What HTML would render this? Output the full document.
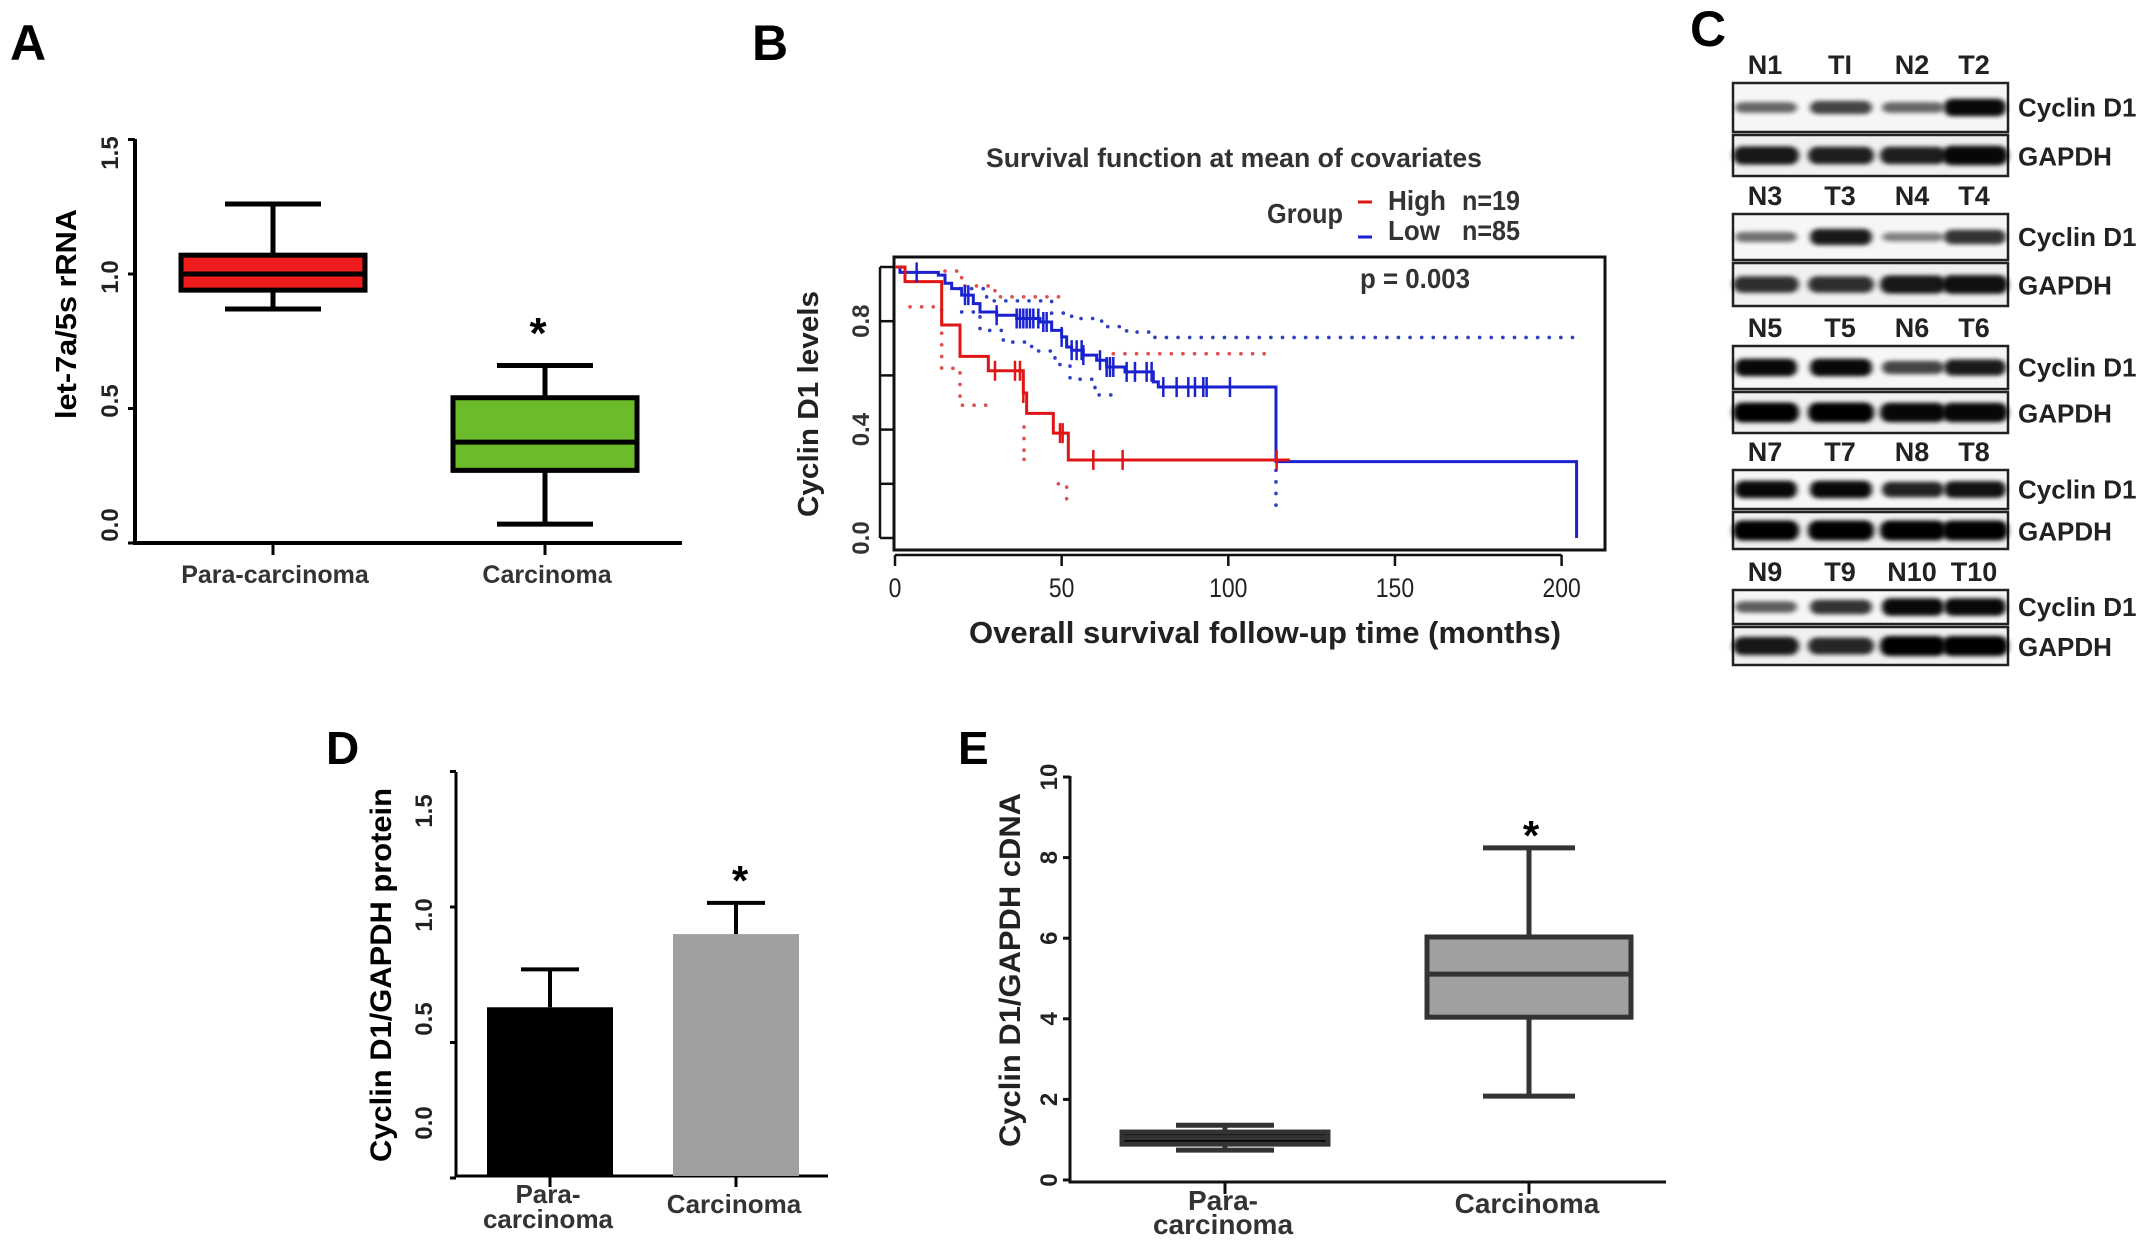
<!DOCTYPE html>
<html><head><meta charset="utf-8"><style>
html,body{margin:0;padding:0;background:#fff;}
svg{display:block;}
text{font-family:"Liberation Sans",Arial,sans-serif;}
.b{font-weight:bold;}
.nar{font-family:"Liberation Sans Narrow","Liberation Sans",sans-serif;}
</style></head><body>
<svg id="fig" width="2150" height="1242" viewBox="0 0 2150 1242" xmlns="http://www.w3.org/2000/svg">
<defs>
<filter id="blur" x="-30%" y="-100%" width="160%" height="300%"><feGaussianBlur stdDeviation="2.8 2.2"/></filter>
</defs>
<text x="10" y="60" class="b" font-size="50">A</text>
<text x="752" y="60" class="b" font-size="50">B</text>
<text x="1690" y="46" class="b" font-size="50">C</text>
<text x="326" y="764" class="b" font-size="46">D</text>
<text x="958" y="764" class="b" font-size="46">E</text>
<g id="pA"></g>
<g id="pB"></g>
<g id="pC"></g>
<g id="pD"></g>
<g id="pE"></g>
</svg>
<script>
// ---------- Panel A data ----------
const aCategories = ["Para-carcinoma", "Carcinoma"];
const aQ1 = [0.94, 0.27];
const aMedian = [1.0, 0.375];
const aQ3 = [1.07, 0.54];
const aWhiskLow = [0.87, 0.07];
const aWhiskHigh = [1.26, 0.66];
const aColors = ["#ee1c1c", "#6cbb2a"];
const aTicks = [0.0, 0.5, 1.0, 1.5];
const aTickLabels = ["0.0", "0.5", "1.0", "1.5"];

// ---------- Panel B data ----------
const bRedT = [0, 3, 14, 19.5, 28, 38.5, 39.5, 47.5, 52];
const bRedS = [1, 0.946, 0.786, 0.67, 0.617, 0.535, 0.46, 0.387, 0.288];
const bRedEnd = 118.5;
const bRedCens = [30, 36, 37.5, 38.5, 49.5, 50.3, 59.5, 68.3, 114.5];
const bBlueT = [0, 1.5, 13, 15, 17, 20, 23.5, 25.5, 30.5, 36.5, 43.5, 47, 50, 51.5, 53, 56.5, 60.5, 63.5, 69, 77.5, 79, 114.3, 204.5];
const bBlueS = [1, 0.98, 0.97, 0.94, 0.92, 0.896, 0.865, 0.834, 0.822, 0.81, 0.797, 0.766, 0.742, 0.705, 0.693, 0.675, 0.656, 0.631, 0.613, 0.576, 0.557, 0.282, 0];
const bBlueCens = [6.5, 21, 22, 30.5, 36.5, 37.5, 38.5, 39.5, 40.5, 41.5, 43, 44.5, 45.5, 50, 53, 54.5, 56, 56.5, 61.5, 63.5, 64.5, 65.5, 69.5, 72, 75.5, 77, 80.5, 84.5, 88, 90, 92.5, 93.5, 100.5];
const bRedUpT = [15, 20, 30, 50];
const bRedUpS = [0.985, 0.93, 0.89];
const bRedUp2T = [65.5, 113];
const bRedUp2S = [0.68];
const bRedLoT = [4.5, 14, 19.5, 27.5];
const bRedLoS = [0.853, 0.626, 0.49];
const bRedLo2T = [38.7, 40];
const bRedLo2S = [0.29];
const bBlueUpT = [19.5, 27.5, 47, 53, 62, 69.5, 78, 205];
const bBlueUpS = [0.92, 0.875, 0.83, 0.81, 0.78, 0.76, 0.74];
const bBlueLoT = [20, 25.5, 32.5, 41, 48, 52.5, 60, 66];
const bBlueLoS = [0.834, 0.766, 0.723, 0.69, 0.64, 0.586, 0.528];
const bXTicks = [0, 50, 100, 150, 200];
const bYTicks = [0, 0.2, 0.4, 0.6, 0.8, 1.0];
const bYLabels = ["0.0", "", "0.4", "", "0.8", ""];

// ---------- Panel C data ----------
const cLanes = [["N1","TI","N2","T2"],["N3","T3","N4","T4"],["N5","T5","N6","T6"],["N7","T7","N8","T8"],["N9","T9","N10","T10"]];
const cCyclin = [[0.4,0.6,0.4,0.95],[0.35,0.85,0.25,0.7],[0.95,0.95,0.6,0.85],[0.95,0.95,0.8,0.9],[0.45,0.7,0.95,0.95]];
const cGapdh = [[0.85,0.8,0.8,0.95],[0.7,0.7,0.85,0.9],[1,1,0.95,0.95],[1,1,1,1],[0.85,0.75,1,1]];
const cGroupTop = [83, 214, 346, 470, 590];
const cCyclinH = [49, 46, 43, 39, 34];
const cGapdhH = [41, 43, 41, 37, 38];

// ---------- Panel D data ----------
const dCategories = ["Para-\ncarcinoma", "Carcinoma"];
const dMeans = [0.63, 0.90];
const dErr = [0.14, 0.115];
const dColors = ["#000000", "#a0a0a0"];
const dTicks = [0.0, 0.5, 1.0, 1.5];
const dTickLabels = ["0.0", "0.5", "1.0", "1.5"];

// ---------- Panel E data ----------
const eCategories = ["Para-\ncarcinoma", "Carcinoma"];
const eQ1 = [0.89, 4.04];
const eMedian = [1.05, 5.11];
const eQ3 = [1.19, 6.03];
const eWhiskLow = [0.74, 2.08];
const eWhiskHigh = [1.36, 8.24];
const eTicks = [0, 2, 4, 6, 8, 10];
const eTickLabels = ["0", "2", "4", "6", "8", "10"];

const NS = "http://www.w3.org/2000/svg";
function mk(parent, tag, attrs, txt) {
  const e = document.createElementNS(NS, tag);
  for (const k in attrs) e.setAttribute(k, attrs[k]);
  if (txt !== undefined) e.textContent = txt;
  parent.appendChild(e);
  return e;
}

// ================= Panel A =================
(function () {
  const g = document.getElementById("pA");
  const y = v => 543 - 269 * v;
  const ly = v => 525 - 248 * v;
  const xc = [273, 545];
  const hw = 92, cw = 48;
  let el = mk(g, "path", { d: "M135 139 V543 H682", fill: "none", stroke: "#000", "stroke-width": 4 });
  
  
  aTicks.forEach((t, i) => {
    let tk = mk(g, "line", { x1: 128, x2: 135, y1: y(t), y2: y(t), stroke: "#000", "stroke-width": 3 });
    
    
    let lb = mk(g, "text", { x: 110, y: ly(t) + 8, "text-anchor": "middle", "font-size": 24, "class": "b", fill: "#222", transform: `rotate(-90 110 ${ly(t)})` }, aTickLabels[i]);
    
    
  });
  let yt = mk(g, "text", { x: 76, y: 314, "text-anchor": "middle", "font-size": 29, "class": "b", transform: "rotate(-90 76 314)", textLength: 210, lengthAdjust: "spacingAndGlyphs" }, "let-7a/5s rRNA");
  
  
  aCategories.forEach((c, i) => {
    const x = xc[i];
    let tk = mk(g, "line", { x1: x, x2: x, y1: 543, y2: 555, stroke: "#000", "stroke-width": 3 });
    
    
    let lb = mk(g, "text", { x: x + 2, y: 583, "text-anchor": "middle", "font-size": 25, "class": "b", fill: "#333" }, c);
    
    
    let w = mk(g, "path", { d: `M${x - cw} ${y(aWhiskHigh[i])} H${x + cw} M${x} ${y(aWhiskHigh[i])} V${y(aQ3[i])} M${x} ${y(aQ1[i])} V${y(aWhiskLow[i])} M${x - cw} ${y(aWhiskLow[i])} H${x + cw}`, stroke: "#000", "stroke-width": 5, fill: "none" });
    
    
    let bx = mk(g, "rect", { x: x - hw, y: y(aQ3[i]), width: 2 * hw, height: y(aQ1[i]) - y(aQ3[i]), fill: aColors[i], stroke: "#000", "stroke-width": 5 });
    
    
    let md = mk(g, "line", { x1: x - hw, x2: x + hw, y1: y(aMedian[i]), y2: y(aMedian[i]), stroke: "#000", "stroke-width": 5 });
    
    
  });
  let st = mk(g, "text", { x: 538, y: 348, "text-anchor": "middle", "font-size": 44, "class": "b" }, "*");
  
  
})();

// ================= Panel B =================
(function () {
  const g = document.getElementById("pB");
  const x = t => 895 + 3.333 * t;
  const y = s => 538 - 271 * s;
  let box = mk(g, "rect", { x: 894, y: 257, width: 711, height: 293, fill: "none", stroke: "#111", "stroke-width": 3 });
  
  
  let ya = mk(g, "line", { x1: 880, x2: 880, y1: y(0), y2: y(1), stroke: "#111", "stroke-width": 2.5 });
  
  
  bYTicks.forEach((t, i) => {
    let tk = mk(g, "line", { x1: 880, x2: 894, y1: y(t), y2: y(t), stroke: "#111", "stroke-width": 2.5 });
    
    
    if (bYLabels[i]) {
      let lb = mk(g, "text", { x: 861, y: y(t) + 8, "text-anchor": "middle", "font-size": 24, "class": "b", fill: "#333", transform: `rotate(-90 861 ${y(t)})` }, bYLabels[i]);
      
      
    }
  });
  let xa = mk(g, "line", { x1: x(0), x2: x(200), y1: 555, y2: 555, stroke: "#111", "stroke-width": 2.5 });
  
  
  bXTicks.forEach(t => {
    let tk = mk(g, "line", { x1: x(t), x2: x(t), y1: 555, y2: 566, stroke: "#111", "stroke-width": 2.5 });
    
    
    let lb = mk(g, "text", { x: x(t), y: 597, "text-anchor": "middle", "font-size": 27, "class": "nar", fill: "#222", transform: `translate(${x(t)} 0) scale(0.85 1) translate(${-x(t)} 0)` }, String(t));
    
    
  });
  function stepPath(T, S, endT) {
    let d = `M${x(T[0])} ${y(S[0])}`;
    for (let i = 1; i < T.length; i++) d += ` H${x(T[i])} V${y(S[i])}`;
    if (endT !== undefined) d += ` H${x(endT)}`;
    return d;
  }
  function segPath(T, S) {
    let d = `M${x(T[0])} ${y(S[0])}`;
    for (let i = 0; i < S.length; i++) {
      d += ` H${x(T[i + 1])}`;
      if (i + 1 < S.length) d += ` V${y(S[i + 1])}`;
    }
    return d;
  }
  const dot = { fill: "none", "stroke-width": 3.6, "stroke-dasharray": "0.1 11.5", "stroke-linecap": "round" };
  [[bRedUpT, bRedUpS, "#e05050", "b-high-ci-upper"], [bRedUp2T, bRedUp2S, "#e05050", "b-high-ci-upper"], [bRedLoT, bRedLoS, "#e05050", "b-high-ci-lower"], [bRedLo2T, bRedLo2S, "#e05050", "b-high-ci-lower"], [bBlueUpT, bBlueUpS, "#3040c0", "b-low-ci-upper"], [bBlueLoT, bBlueLoS, "#3040c0", "b-low-ci-lower"]].forEach(a => {
    let p = mk(g, "path", Object.assign({ d: segPath(a[0], a[1]), stroke: a[2] }, dot));
    
    
  });
  let vci = mk(g, "path", Object.assign({ d: `M${x(38.7)} ${y(0.41)} V${y(0.29)} M${x(49)} ${y(0.2)} H${x(51.5)} V${y(0.14)}`, stroke: "#e05050" }, dot));
  
  
  let vci2 = mk(g, "path", Object.assign({ d: `M${x(114.3)} ${y(0.25)} V${y(0.1)}`, stroke: "#3040c0" }, dot));
  
  
  let blue = mk(g, "path", { d: stepPath(bBlueT, bBlueS), fill: "none", stroke: "#1a22d0", "stroke-width": 3 });
  
  
  let red = mk(g, "path", { d: stepPath(bRedT, bRedS, bRedEnd), fill: "none", stroke: "#e01515", "stroke-width": 3 });
  
  
  function sAt(T, S, t) { let s = S[0]; for (let i = 0; i < T.length; i++) if (T[i] <= t) s = S[i]; return s; }
  bBlueCens.forEach(t => {
    const s = sAt(bBlueT, bBlueS, t);
    let c = mk(g, "line", { x1: x(t), x2: x(t), y1: y(s) - 10, y2: y(s) + 10, stroke: "#1a22d0", "stroke-width": 2.5 });
    
    
  });
  bRedCens.forEach(t => {
    const s = sAt(bRedT, bRedS, t);
    let c = mk(g, "line", { x1: x(t), x2: x(t), y1: y(s) - 10, y2: y(s) + 10, stroke: "#e01515", "stroke-width": 2.5 });
    
    
  });
  let tt = mk(g, "text", { x: 1234, y: 167, "text-anchor": "middle", "font-size": 27, "class": "nar b", fill: "#333", textLength: 496, lengthAdjust: "spacingAndGlyphs" }, "Survival function at mean of covariates");
  
  
  let grp = mk(g, "text", { x: 1267, y: 223, "font-size": 28, "class": "nar b", fill: "#333", textLength: 76, lengthAdjust: "spacingAndGlyphs" }, "Group");
  
  
  let l1 = mk(g, "line", { x1: 1358, x2: 1372, y1: 202, y2: 202, stroke: "#e01515", "stroke-width": 3 });
  
  
  let l2 = mk(g, "line", { x1: 1358, x2: 1372, y1: 237, y2: 237, stroke: "#1a22d0", "stroke-width": 3 });
  
  
  let h = mk(g, "text", { x: 1388, y: 210, "font-size": 28, "class": "nar b", fill: "#333", textLength: 58, lengthAdjust: "spacingAndGlyphs" }, "High");
  
  
  let h2 = mk(g, "text", { x: 1462, y: 210, "font-size": 28, "class": "nar b", fill: "#333", textLength: 58, lengthAdjust: "spacingAndGlyphs" }, "n=19");
  
  
  let lo = mk(g, "text", { x: 1388, y: 240, "font-size": 28, "class": "nar b", fill: "#333", textLength: 52, lengthAdjust: "spacingAndGlyphs" }, "Low");
  
  
  let lo2 = mk(g, "text", { x: 1462, y: 240, "font-size": 28, "class": "nar b", fill: "#333", textLength: 58, lengthAdjust: "spacingAndGlyphs" }, "n=85");
  
  
  let p = mk(g, "text", { x: 1360, y: 288, "font-size": 28, "class": "nar b", fill: "#333", textLength: 110, lengthAdjust: "spacingAndGlyphs" }, "p = 0.003");
  
  
  let yt = mk(g, "text", { x: 818, y: 404, "text-anchor": "middle", "font-size": 29, "class": "b", fill: "#222", transform: "rotate(-90 818 404)", textLength: 226, lengthAdjust: "spacingAndGlyphs" }, "Cyclin D1 levels");
  
  
  let xt = mk(g, "text", { x: 1265, y: 643, "text-anchor": "middle", "font-size": 31, "class": "nar b", fill: "#222", textLength: 592, lengthAdjust: "spacingAndGlyphs" }, "Overall survival follow-up time (months)");
  
  
})();

// ================= Panel C =================
(function () {
  const g = document.getElementById("pC");
  const laneX = [1765, 1840, 1912, 1974];
  const L = 1733, R = 2008;
  cLanes.forEach((lanes, gi) => {
    const top = cGroupTop[gi];
    const ch = cCyclinH[gi], gh = cGapdhH[gi];
    const gTop = top + ch + 3;
    lanes.forEach((ln, li) => {
      let t = mk(g, "text", { x: laneX[li], y: top - 9, "text-anchor": "middle", "font-size": 27, "class": "b", fill: "#222" }, ln);
      
      
    });
    let r1 = mk(g, "rect", { x: L, y: top, width: R - L, height: ch, fill: "#f6f6f6", stroke: "#222", "stroke-width": 2.5 });
    
    
    let r2 = mk(g, "rect", { x: L, y: gTop, width: R - L, height: gh, fill: "#f0f0f0", stroke: "#222", "stroke-width": 2.5 });
    
    
    lanes.forEach((ln, li) => {
      const v = cCyclin[gi][li];
      let b = mk(g, "rect", { x: laneX[li] - 30, y: top + ch / 2 - (3 + 6 * v), width: 62, height: 2 * (3 + 6 * v), rx: 8, fill: "#000", opacity: 0.3 + 0.7 * v, filter: "url(#blur)" });
      
      
      const w = cGapdh[gi][li];
      let b2 = mk(g, "rect", { x: laneX[li] - 32, y: gTop + gh / 2 - (4 + 6 * w), width: 66, height: 2 * (4 + 6 * w), rx: 9, fill: "#000", opacity: 0.35 + 0.65 * w, filter: "url(#blur)" });
      
      
    });
    let t1 = mk(g, "text", { x: 2018, y: top + ch / 2 + 9, "font-size": 26, "class": "b", fill: "#222" }, "Cyclin D1");
    
    
    let t2 = mk(g, "text", { x: 2018, y: gTop + gh / 2 + 10, "font-size": 26, "class": "b", fill: "#222" }, "GAPDH");
    
    
  });
})();

// ================= Panel D =================
(function () {
  const g = document.getElementById("pD");
  const y = v => 1178 - 271 * v;
  const ly = v => 1123 - 208 * v;
  const xc = [550, 736];
  const hw = 63, cw = 29;
  let ax = mk(g, "path", { d: "M456 772 V1176 H828", fill: "none", stroke: "#000", "stroke-width": 3 });
  
  
  dTicks.forEach((t, i) => {
    let tk = mk(g, "line", { x1: 450, x2: 456, y1: y(t), y2: y(t), stroke: "#000", "stroke-width": 3 });
    
    
    let lb = mk(g, "text", { x: 424, y: ly(t) + 8, "text-anchor": "middle", "font-size": 24, "class": "b", fill: "#222", transform: `rotate(-90 424 ${ly(t)})` }, dTickLabels[i]);
    
    
  });
  let yt = mk(g, "text", { x: 391, y: 975, "text-anchor": "middle", "font-size": 30, "class": "b", transform: "rotate(-90 391 975)", textLength: 374, lengthAdjust: "spacingAndGlyphs" }, "Cyclin D1/GAPDH protein");
  
  
  dMeans.forEach((m, i) => {
    const x = xc[i];
    let e = mk(g, "path", { d: `M${x} ${y(m)} V${y(m + dErr[i])} M${x - cw} ${y(m + dErr[i])} H${x + cw}`, stroke: "#000", "stroke-width": 4, fill: "none" });
    
    
    let b = mk(g, "rect", { x: x - hw, y: y(m), width: 2 * hw, height: 1176 - y(m), fill: dColors[i] });
    
    
    let tk = mk(g, "line", { x1: x, x2: x, y1: 1176, y2: 1187, stroke: "#000", "stroke-width": 3 });
    
    
    const parts = dCategories[i].split("\n");
    parts.forEach((p, k) => {
      const yy = parts.length === 1 ? 1213 : 1203 + k * 25;
      let lb = mk(g, "text", { x: x - 2, y: yy, "text-anchor": "middle", "font-size": 26, "class": "b", fill: "#333" }, p);
      
      
    });
  });
  let st = mk(g, "text", { x: 740, y: 895, "text-anchor": "middle", "font-size": 42, "class": "b" }, "*");
  
  
})();

// ================= Panel E =================
(function () {
  const g = document.getElementById("pE");
  const y = v => 1180 - 40.3 * v;
  const xc = [1225, 1529];
  const hw = [103, 102], cw = [49, 46];
  const fills = ["#000", "#a0a0a0"];
  let ax = mk(g, "path", { d: "M1070 776 V1182 H1666", fill: "none", stroke: "#111", "stroke-width": 3 });
  
  
  eTicks.forEach((t, i) => {
    let tk = mk(g, "line", { x1: 1063, x2: 1070, y1: y(t), y2: y(t), stroke: "#111", "stroke-width": 3 });
    
    
    let lb = mk(g, "text", { x: 1049, y: y(t) + 8, "text-anchor": "middle", "font-size": 24, "class": "b", fill: "#222", transform: `rotate(-90 1049 ${y(t)})` }, eTickLabels[i]);
    
    
  });
  let yt = mk(g, "text", { x: 1020, y: 970, "text-anchor": "middle", "font-size": 30, "class": "b", fill: "#222", transform: "rotate(-90 1020 970)", textLength: 354, lengthAdjust: "spacingAndGlyphs" }, "Cyclin D1/GAPDH cDNA");
  
  
  eQ1.forEach((q, i) => {
    const x = xc[i];
    let w = mk(g, "path", { d: `M${x - cw[i]} ${y(eWhiskHigh[i])} H${x + cw[i]} M${x} ${y(eWhiskHigh[i])} V${y(eQ3[i])} M${x} ${y(eQ1[i])} V${y(eWhiskLow[i])} M${x - cw[i]} ${y(eWhiskLow[i])} H${x + cw[i]}`, stroke: "#333", "stroke-width": 5, fill: "none" });
    
    
    let b = mk(g, "rect", { x: x - hw[i], y: y(eQ3[i]), width: 2 * hw[i], height: y(eQ1[i]) - y(eQ3[i]), fill: fills[i], stroke: "#333", "stroke-width": 5 });
    
    
    let md = mk(g, "line", { x1: x - hw[i], x2: x + hw[i], y1: y(eMedian[i]), y2: y(eMedian[i]), stroke: "#333", "stroke-width": 5 });
    
    
    let tk = mk(g, "line", { x1: x, x2: x, y1: 1182, y2: 1194, stroke: "#111", "stroke-width": 3 });
    
    
    const parts = eCategories[i].split("\n");
    parts.forEach((p, k) => {
      const yy = parts.length === 1 ? 1213 : 1210 + k * 24;
      let lb = mk(g, "text", { x: x - 2, y: yy, "text-anchor": "middle", "font-size": 28, "class": "nar b", fill: "#333" }, p);
      
      
    });
  });
  let st = mk(g, "text", { x: 1531, y: 850, "text-anchor": "middle", "font-size": 42, "class": "b" }, "*");
  
  
})();
</script>
</body></html>
